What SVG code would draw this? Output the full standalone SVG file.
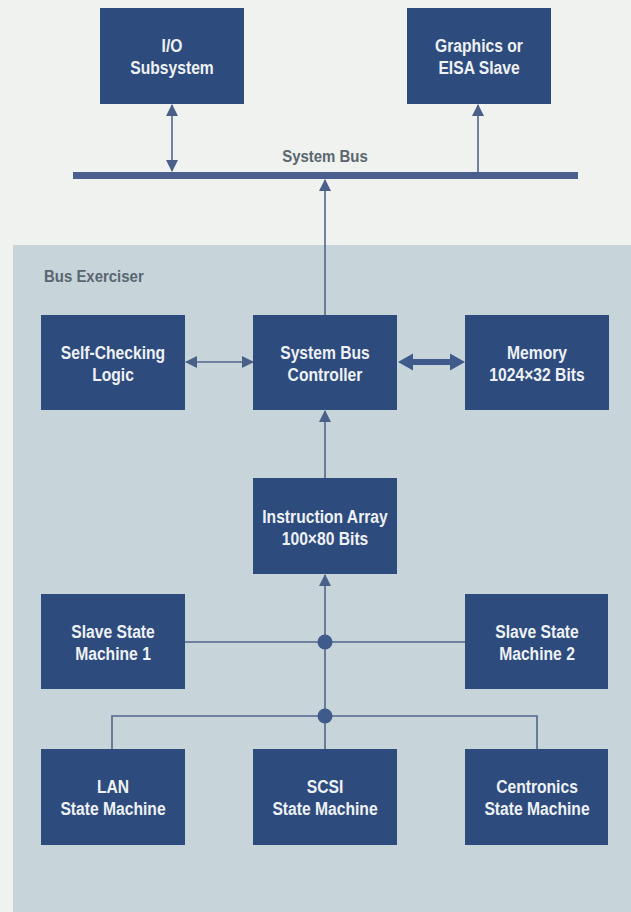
<svg xmlns="http://www.w3.org/2000/svg" width="631" height="912" viewBox="0 0 631 912">
  <defs>
    <style>
      .box { fill: #2d4b7d; }
      .lbl { font-family: "Liberation Sans", Arial, sans-serif; font-weight: bold; font-size: 18px; fill: #eef1f4; text-anchor: middle; }
      .cap { font-family: "Liberation Sans", Arial, sans-serif; font-weight: bold; font-size: 17px; fill: #5a6670; }
      .wire { stroke: #51668a; stroke-width: 1.6; fill: none; }
      .dot { fill: #3f5b8c; }
    </style>
    <marker id="ah" viewBox="0 0 12 12" refX="11" refY="6" markerWidth="12" markerHeight="12" markerUnits="userSpaceOnUse" orient="auto-start-reverse">
      <path d="M0,0 L12,6 L0,12 Z" fill="#4a6089"/>
    </marker>
  </defs>
  <rect x="0" y="0" width="631" height="912" fill="#eff2ee"/>
  <rect id="bus-exerciser-panel" x="13" y="245" width="618" height="667" fill="#c7d4da"/>
  <text class="cap" transform="translate(44,282) scale(0.88,1)">Bus Exerciser</text>

  <g id="system-bus">
    <rect x="73" y="172" width="505" height="7" fill="#4a5f8e"/>
    <text class="cap" text-anchor="middle" transform="translate(325,162) scale(0.88,1)">System Bus</text>
  </g>

  <g id="connectors">
    <line class="wire" x1="172" y1="105" x2="172" y2="171" marker-start="url(#ah)" marker-end="url(#ah)"/>
    <line class="wire" x1="478" y1="172" x2="478" y2="105" marker-end="url(#ah)"/>
    <line class="wire" x1="325" y1="315" x2="325" y2="180" marker-end="url(#ah)"/>
    <line class="wire" x1="186" y1="362" x2="253" y2="362" marker-start="url(#ah)" marker-end="url(#ah)"/>
    <polygon points="398,362 413,353.5 413,359 450,359 450,353.5 465,362 450,370.5 450,365 413,365 413,370.5" fill="#3f5b8c"/>
    <line class="wire" x1="325" y1="478" x2="325" y2="411" marker-end="url(#ah)"/>
    <line class="wire" x1="325" y1="749" x2="325" y2="575" marker-end="url(#ah)"/>
    <line class="wire" x1="185" y1="642" x2="465" y2="642"/>
    <polyline class="wire" points="112,749 112,716 537,716 537,749"/>
    <circle class="dot" cx="325" cy="642" r="7.5"/>
    <circle class="dot" cx="325" cy="716" r="7.5"/>
  </g>

  <g id="io-subsystem">
    <rect class="box" x="100" y="8" width="144" height="96"/>
    <text class="lbl" transform="translate(172,52) scale(0.87,1)">I/O</text>
    <text class="lbl" transform="translate(172,74) scale(0.87,1)">Subsystem</text>
  </g>
  <g id="graphics-eisa-slave">
    <rect class="box" x="407" y="8" width="144" height="96"/>
    <text class="lbl" transform="translate(479,52) scale(0.87,1)">Graphics or</text>
    <text class="lbl" transform="translate(479,74) scale(0.87,1)">EISA Slave</text>
  </g>
  <g id="self-checking-logic">
    <rect class="box" x="41" y="315" width="144" height="95"/>
    <text class="lbl" transform="translate(113,359) scale(0.87,1)">Self-Checking</text>
    <text class="lbl" transform="translate(113,381) scale(0.87,1)">Logic</text>
  </g>
  <g id="system-bus-controller">
    <rect class="box" x="253" y="315" width="144" height="95"/>
    <text class="lbl" transform="translate(325,359) scale(0.87,1)">System Bus</text>
    <text class="lbl" transform="translate(325,381) scale(0.87,1)">Controller</text>
  </g>
  <g id="memory">
    <rect class="box" x="465" y="315" width="144" height="95"/>
    <text class="lbl" transform="translate(537,359) scale(0.87,1)">Memory</text>
    <text class="lbl" transform="translate(537,381) scale(0.87,1)">1024×32 Bits</text>
  </g>
  <g id="instruction-array">
    <rect class="box" x="253" y="478" width="144" height="96"/>
    <text class="lbl" transform="translate(325,523) scale(0.87,1)">Instruction Array</text>
    <text class="lbl" transform="translate(325,545) scale(0.87,1)">100×80 Bits</text>
  </g>
  <g id="slave-state-machine-1">
    <rect class="box" x="41" y="594" width="144" height="95"/>
    <text class="lbl" transform="translate(113,638) scale(0.87,1)">Slave State</text>
    <text class="lbl" transform="translate(113,660) scale(0.87,1)">Machine 1</text>
  </g>
  <g id="slave-state-machine-2">
    <rect class="box" x="465" y="594" width="143" height="95"/>
    <text class="lbl" transform="translate(537,638) scale(0.87,1)">Slave State</text>
    <text class="lbl" transform="translate(537,660) scale(0.87,1)">Machine 2</text>
  </g>
  <g id="lan-state-machine">
    <rect class="box" x="41" y="749" width="144" height="96"/>
    <text class="lbl" transform="translate(113,793) scale(0.87,1)">LAN</text>
    <text class="lbl" transform="translate(113,815) scale(0.87,1)">State Machine</text>
  </g>
  <g id="scsi-state-machine">
    <rect class="box" x="253" y="749" width="144" height="96"/>
    <text class="lbl" transform="translate(325,793) scale(0.87,1)">SCSI</text>
    <text class="lbl" transform="translate(325,815) scale(0.87,1)">State Machine</text>
  </g>
  <g id="centronics-state-machine">
    <rect class="box" x="465" y="749" width="143" height="96"/>
    <text class="lbl" transform="translate(537,793) scale(0.87,1)">Centronics</text>
    <text class="lbl" transform="translate(537,815) scale(0.87,1)">State Machine</text>
  </g>
</svg>
